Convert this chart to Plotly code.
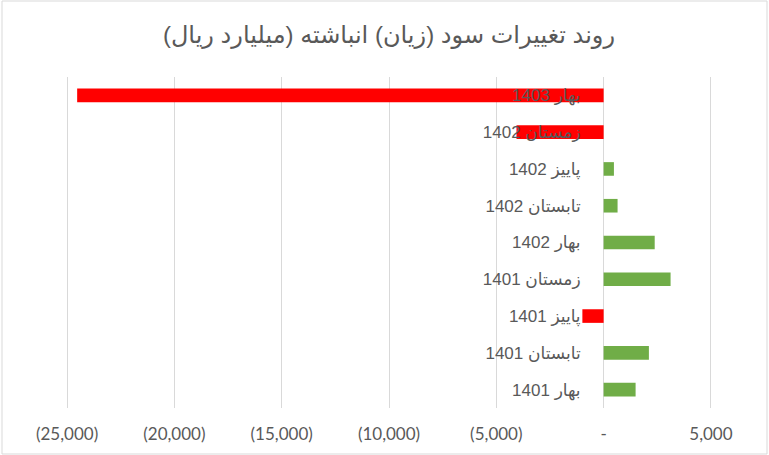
import plotly.graph_objects as go

categories = ["بهار 1401", "تابستان 1401", "پاییز 1401", "زمستان 1401",
              "بهار 1402", "تابستان 1402", "پاییز 1402", "زمستان 1402", "بهار 1403"]
values = [1490, 2110, -990, 3120, 2380, 650, 480, -4060, -24530]
x_tickvals = [-25000, -20000, -15000, -10000, -5000, 0, 5000]
x_ticktext = ["(25,000)", "(20,000)", "(15,000)", "(10,000)", "(5,000)", "-", "5,000"]
title_text = "روند تغییرات سود (زیان) انباشته (میلیارد ریال)"

W, H = 769, 455
xmin, xmax = -25050, 5050
ml, mr, mt, mb = 66, 57, 77, 47

colors = ["#FF0000" if v < 0 else "#70AD47" for v in values]

fig = go.Figure(go.Bar(
    x=values, y=categories, orientation="h",
    marker=dict(color=colors, line=dict(width=0)),
    width=0.37,
))

fig.update_layout(
    width=W, height=H,
    margin=dict(l=ml, r=mr, t=mt, b=mb, autoexpand=False),
    paper_bgcolor="white", plot_bgcolor="white",
    showlegend=False,
    title=dict(text=title_text, x=0.5, xref="paper", xanchor="center",
               y=1 - 35 / H, yref="container", yanchor="middle",
               font=dict(family="Liberation Sans, DejaVu Sans, sans-serif", size=24, color="#595959")),
    xaxis=dict(range=[xmin, xmax], tickvals=x_tickvals, ticktext=x_ticktext,
               showgrid=True, gridcolor="#D9D9D9", gridwidth=1.4,
               zeroline=True, zerolinecolor="#D9D9D9", zerolinewidth=1.4,
               showline=False, ticks="", automargin=False,
               tickfont=dict(family="Lato, Open Sans, sans-serif", size=17, color="#595959"),
               ticklabelstandoff=14),
    yaxis=dict(type="category", anchor="free",
               position=(0 - xmin) / (xmax - xmin),
               showgrid=False, zeroline=False, showline=False, ticks="", automargin=False,
               tickfont=dict(family="Liberation Sans, DejaVu Sans, sans-serif", size=17, color="#595959"),
               ticklabelstandoff=23,
               range=[-0.5, len(categories) - 0.5]),
    shapes=[dict(type="rect", xref="paper", yref="paper",
                 x0=-(ml - 2) / (W - ml - mr), x1=1 + (mr - 2) / (W - ml - mr),
                 y0=-(mb - 1) / (H - mt - mb), y1=1 + (mt - 1) / (H - mt - mb),
                 line=dict(color="#D9D9D9", width=1), layer="below")],
)

fig.write_html("out.html", config={"displayModeBar": False},
               post_script="document.body.style.margin='0';document.body.style.overflow='hidden';")
